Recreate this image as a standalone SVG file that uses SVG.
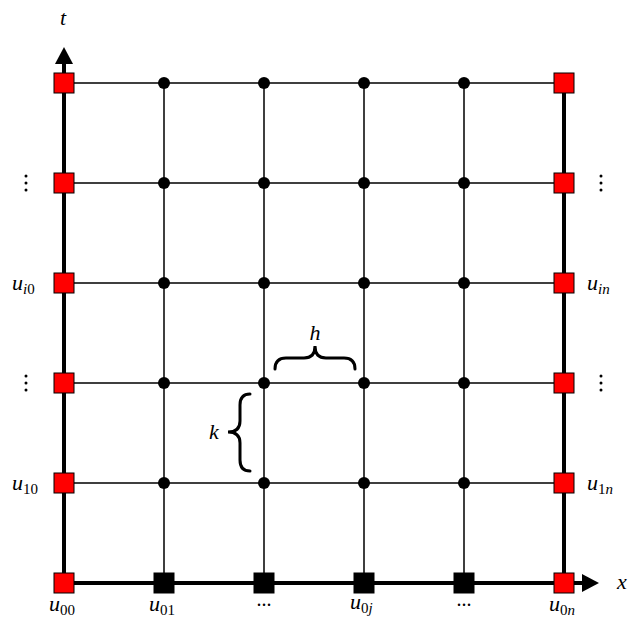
<svg xmlns="http://www.w3.org/2000/svg" width="630" height="621" viewBox="0 0 630 621">
<style>
.grid{stroke:#000;stroke-width:1.5;fill:none}
.axis{stroke:#000;stroke-width:4;fill:none}
.dot{fill:#000}
.red{fill:#ff0000;stroke:#000;stroke-width:1}
.blk{fill:#000;stroke:#000;stroke-width:1}
.lbl{font-style:italic;font-size:22px;fill:#000}
.sub{font-size:15px}
.n{font-style:normal}
.up{font-size:20px;fill:#000}
.brace{stroke:#000;stroke-width:3;fill:none;stroke-linecap:round}
</style>
<rect width="630" height="621" fill="#fff"/>
<g id="connectors">
<path class="grid" d="M64,83H564M64,183H564M64,283H564M64,383H564M64,483H564"/>
<path class="grid" d="M164,83V583M264,83V583M364,83V583M464,83V583"/>
<path class="axis" d="M64,583V62M564,83V583M64,583H584"/>
<polygon points="55,64 73,64 64,47" fill="#000"/>
<polygon points="582,574 582,592 599,583" fill="#000"/>
</g>
<g id="interior-nodes">
<g class="dot">
<circle cx="164" cy="83" r="6"/><circle cx="264" cy="83" r="6"/><circle cx="364" cy="83" r="6"/><circle cx="464" cy="83" r="6"/>
<circle cx="164" cy="183" r="6"/><circle cx="264" cy="183" r="6"/><circle cx="364" cy="183" r="6"/><circle cx="464" cy="183" r="6"/>
<circle cx="164" cy="283" r="6"/><circle cx="264" cy="283" r="6"/><circle cx="364" cy="283" r="6"/><circle cx="464" cy="283" r="6"/>
<circle cx="164" cy="383" r="6"/><circle cx="264" cy="383" r="6"/><circle cx="364" cy="383" r="6"/><circle cx="464" cy="383" r="6"/>
<circle cx="164" cy="483" r="6"/><circle cx="264" cy="483" r="6"/><circle cx="364" cy="483" r="6"/><circle cx="464" cy="483" r="6"/>
</g>
</g>
<g id="left-boundary">
<rect class="red" x="54" y="73" width="20" height="20"/>
<rect class="red" x="54" y="173" width="20" height="20"/>
<rect class="red" x="54" y="273" width="20" height="20"/>
<rect class="red" x="54" y="373" width="20" height="20"/>
<rect class="red" x="54" y="473" width="20" height="20"/>
<rect class="red" x="54" y="573" width="20" height="20"/>
</g>
<g id="right-boundary">
<rect class="red" x="554" y="73" width="20" height="20"/>
<rect class="red" x="554" y="173" width="20" height="20"/>
<rect class="red" x="554" y="273" width="20" height="20"/>
<rect class="red" x="554" y="373" width="20" height="20"/>
<rect class="red" x="554" y="473" width="20" height="20"/>
<rect class="red" x="554" y="573" width="20" height="20"/>
</g>
<g id="bottom-boundary">
<rect class="blk" x="154" y="573" width="20" height="20"/>
<rect class="blk" x="254" y="573" width="20" height="20"/>
<rect class="blk" x="354" y="573" width="20" height="20"/>
<rect class="blk" x="454" y="573" width="20" height="20"/>
</g>
<g id="braces">
<path class="brace" d="M275,369 Q275,358 286,358 L304,358 Q315,358 315,346 Q315,358 326,358 L344,358 Q355,358 355,369"/>
<path class="brace" d="M250,394 Q240,394 240,405 L240,421 Q240,432 228,432 Q240,432 240,443 L240,460 Q240,471 250,471"/>
</g>
<g id="labels" font-family="Liberation Serif, Times New Roman, serif">
<text class="lbl" x="63" y="25" text-anchor="middle">t</text>
<text class="lbl" x="622" y="589" text-anchor="middle">x</text>
<text class="lbl" x="315" y="340" text-anchor="middle">h</text>
<text class="lbl" x="214" y="439" text-anchor="middle">k</text>
<text class="lbl" x="12" y="290">u<tspan class="sub" dy="4">i<tspan class="n">0</tspan></tspan></text>
<text class="lbl" x="12" y="490">u<tspan class="sub n" dy="4">10</tspan></text>
<text class="lbl" x="587" y="290">u<tspan class="sub" dy="4">in</tspan></text>
<text class="lbl" x="587" y="490">u<tspan class="sub" dy="4"><tspan class="n">1</tspan>n</tspan></text>
<text class="lbl" x="49" y="611">u<tspan class="sub n" dy="4">00</tspan></text>
<text class="lbl" x="149" y="611">u<tspan class="sub n" dy="4">01</tspan></text>
<text class="lbl" x="350" y="609">u<tspan class="sub" dy="4"><tspan class="n">0</tspan>j</tspan></text>
<text class="lbl" x="549" y="611">u<tspan class="sub" dy="4"><tspan class="n">0</tspan>n</tspan></text>
<text class="up" x="264" y="606" text-anchor="middle">...</text>
<text class="up" x="464" y="606" text-anchor="middle">...</text>
<g class="dot">
<circle cx="26" cy="176" r="1.5"/><circle cx="26" cy="183" r="1.5"/><circle cx="26" cy="190" r="1.5"/>
<circle cx="26" cy="376" r="1.5"/><circle cx="26" cy="383" r="1.5"/><circle cx="26" cy="390" r="1.5"/>
<circle cx="601" cy="176" r="1.5"/><circle cx="601" cy="183" r="1.5"/><circle cx="601" cy="190" r="1.5"/>
<circle cx="601" cy="376" r="1.5"/><circle cx="601" cy="383" r="1.5"/><circle cx="601" cy="390" r="1.5"/>
</g>
</g>
</svg>
